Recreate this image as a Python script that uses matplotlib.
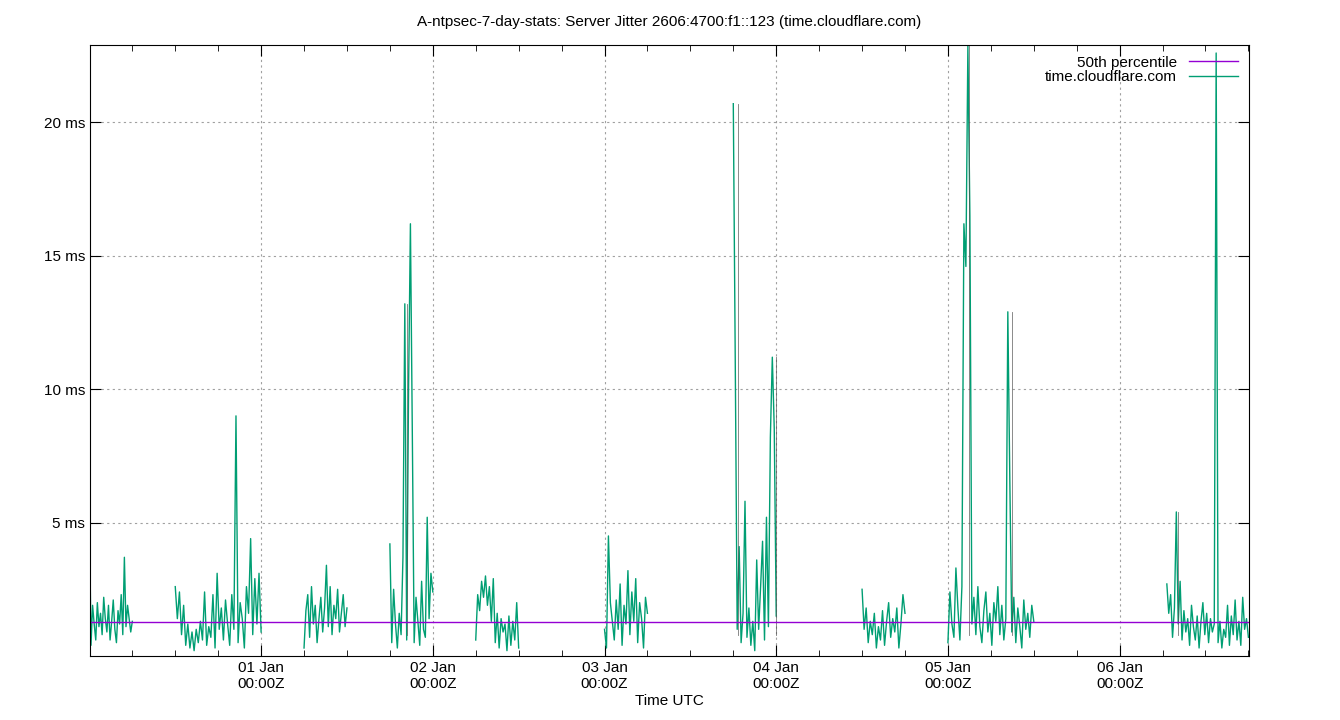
import numpy as np
import matplotlib
matplotlib.use("Agg")
import matplotlib.pyplot as plt
import matplotlib.dates as mdates
from datetime import datetime, timedelta

plt.rcParams["font.family"] = ["Liberation Sans", "DejaVu Sans"]

T0 = datetime(2024, 12, 31, 0, 0)
T_START = datetime(2024, 12, 31, 0, 5)
T_END = datetime(2025, 1, 6, 18, 5)
P50 = 1.27  # ms

# segments: (start hour, end hour, jitter values in ms)
SEGMENTS = [
    (0.0, 6.0, [5.3, 0.4, 1.9, 1.2, 0.6, 2.0, 1.1, 1.6, 0.8, 2.2, 1.4, 0.9, 1.9, 0.6, 1.3, 2.1,
                1.0, 0.5, 1.7, 1.2, 2.3, 0.8, 3.7, 1.1, 1.9, 1.4, 0.9, 1.3]),
    (12.0, 24.0, [2.6, 1.4, 2.4, 0.8, 1.9, 0.4, 1.2, 0.3, 0.9, 0.2, 1.0, 0.5, 1.3, 0.6, 2.4, 0.4,
                  1.1, 0.7, 2.3, 0.3, 3.1, 1.0, 1.8, 0.6, 2.1, 1.2, 0.4, 2.3, 1.0, 9.0, 0.5,
                  2.0, 1.4, 0.3, 2.6, 1.6, 4.4, 0.8, 2.9, 1.2, 3.1, 0.9]),
    (30.0, 36.0, [0.3, 1.7, 2.3, 0.7, 2.6, 1.2, 1.9, 0.5, 1.4, 2.2, 0.9, 1.8, 3.4, 1.1, 2.6, 0.8,
                  1.9, 1.4, 2.5, 0.9, 1.6, 2.3, 1.1, 1.8]),
    (42.0, 48.0, [4.2, 0.5, 2.5, 1.2, 0.3, 1.6, 0.8, 3.7, 13.2, 0.6, 10.0, 16.2, 8.5, 0.5, 2.2, 1.3,
                  0.4, 2.8, 1.0, 0.7, 5.2, 1.4, 3.1, 2.4]),
    (54.0, 60.0, [0.6, 2.3, 1.7, 2.8, 2.2, 3.0, 1.9, 2.6, 1.3, 2.9, 0.5, 1.6, 0.3, 1.4, 0.9, 1.2,
                  0.2, 1.5, 0.4, 1.3, 0.6, 2.0, 0.3]),
    (72.0, 78.0, [1.0, 0.3, 4.5, 2.0, 1.3, 0.6, 2.1, 1.0, 2.7, 0.4, 1.9, 1.2, 3.2, 0.8, 2.4, 1.3,
                  2.9, 0.5, 2.0, 1.4, 0.3, 2.2, 1.6]),
    (90.0, 96.0, [20.7, 11.1, 1.0, 4.1, 0.5, 1.6, 5.8, 0.7, 1.8, 0.4, 1.3, 0.2, 3.6, 1.0, 2.6, 4.3,
                  0.6, 5.2, 1.1, 8.2, 11.2, 8.5, 1.5]),
    (108.0, 114.0, [2.5, 1.0, 1.8, 0.5, 1.3, 0.8, 1.6, 0.3, 1.1, 0.6, 1.7, 0.4, 1.3, 2.0, 0.7, 1.4,
                    0.9, 1.8, 0.3, 1.2, 2.3, 1.6]),
    (120.0, 132.0, [0.5, 2.4, 1.2, 0.7, 3.3, 1.8, 0.6, 2.6, 16.2, 14.6, 22.9, 16.5, 1.2, 2.2, 0.8,
                    2.6, 1.1, 0.5, 1.7, 2.4, 0.9, 1.6, 0.4, 2.0, 1.3, 2.6, 0.8, 1.9, 0.6, 1.4,
                    12.9, 6.6, 0.9, 2.2, 0.5, 1.8, 1.1, 0.3, 2.1, 1.0, 1.6, 0.7, 1.9, 1.3]),
    (150.6, 162.0, [2.7, 1.6, 2.3, 0.7, 1.8, 5.4, 1.2, 2.8, 0.6, 1.7, 0.9, 1.4, 0.4, 1.9, 1.1, 0.6,
                    1.5, 0.3, 1.3, 2.0, 0.8, 1.6, 0.5, 1.4, 0.9, 1.2, 22.6, 0.5, 1.3, 0.3, 1.0,
                    0.7, 1.9, 0.4, 1.5, 0.8, 2.1, 0.6, 1.3, 0.4, 2.2, 1.0, 1.4, 0.7]),
]

# tall thin spikes that only show as the faint grey trace
GREY_SPIKES = [(44.4, 13.2), (90.6, 20.7), (95.9, 11.2), (122.9, 22.9), (129.0, 12.9), (152.2, 5.4)]

TEAL = "#009e73"
fig = plt.figure(figsize=(13.4, 7.2), dpi=100)
ax = fig.add_axes([90 / 1340, 64 / 720, (1249 - 90) / 1340, (656 - 45) / 720])

for h0, h1, vals in SEGMENTS:
    hours = np.linspace(h0, h1, len(vals))
    t = [T0 + timedelta(hours=float(h)) for h in hours]
    ax.plot(t, vals, color=TEAL, lw=1.0)

for h, v in GREY_SPIKES:
    t = T0 + timedelta(hours=h)
    ax.plot([t, t], [0.8, v], color="#555555", lw=0.6, alpha=0.8)

ax.plot([], [], color="#9400d3", lw=1, label="50th percentile")
ax.plot([], [], color=TEAL, lw=1, label="time.cloudflare.com")
ax.axhline(P50, color="#9400d3", lw=1.0)

ax.set_xlim(T_START, T_END)
ax.set_ylim(0, 22.9)
ax.set_yticks([5, 10, 15, 20])
ax.set_yticklabels(["5 ms", "10 ms", "15 ms", "20 ms"])
ax.xaxis.set_major_locator(mdates.DayLocator())
ax.xaxis.set_minor_locator(mdates.HourLocator(byhour=[6, 12, 18]))
ax.xaxis.set_major_formatter(mdates.DateFormatter("%d %b\n%H:%MZ"))
ax.grid(True, which="major", color="#a0a0a0", ls=(0, (2, 3)), lw=0.8)
ax.tick_params(which="both", direction="in", top=True, right=True, labelsize=11)
ax.tick_params(which="major", length=8)
ax.tick_params(which="minor", length=4)
for s in ax.spines.values():
    s.set_linewidth(0.8)
ax.set_xlabel("Time UTC", fontsize=11, labelpad=2)
ax.set_title("A-ntpsec-7-day-stats: Server Jitter 2606:4700:f1::123 (time.cloudflare.com)",
             fontsize=11, pad=14)
leg = ax.legend(loc="upper right", frameon=False, fontsize=11, markerfirst=False,
                handlelength=3.2, borderaxespad=0.3, labelspacing=0.05)

fig.savefig("out.png", dpi=100)
